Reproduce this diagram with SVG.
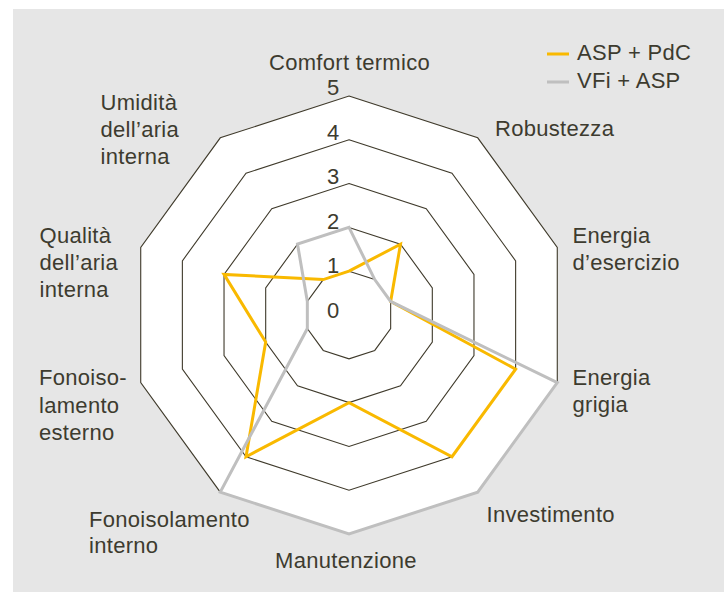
<svg xmlns="http://www.w3.org/2000/svg" width="724" height="592" viewBox="0 0 724 592">
  <style>
    .bg { fill: #e6e6e6; }
    .ring { fill: none; stroke: #3f3a2b; stroke-width: 1.1; stroke-linejoin: miter; }
    .outer { fill: #ffffff; stroke: #3f3a2b; stroke-width: 1.1; }
    .s-orange { fill: none; stroke: #f9b900; stroke-width: 3; stroke-linejoin: miter; }
    .s-gray { fill: none; stroke: #bfbfbf; stroke-width: 3; stroke-linejoin: miter; }
    text { font-family: "Liberation Sans", Arial, sans-serif; font-size: 22px; letter-spacing: 0.3px; fill: #3d3b2f; }
    .num { text-anchor: middle; letter-spacing: 0; }
  </style>
  <rect class="bg" x="13" y="9" width="711" height="583"/>

  <g id="chart" transform="translate(-1 0)">
    <g id="grid">
      <polygon class="outer" points="350,96 478.72,137.83 558.28,247.33 558.28,382.67 478.72,492.17 350,534 221.28,492.17 141.72,382.67 141.72,247.33 221.28,137.83"/>
      <polygon class="ring" points="350,139.8 452.98,173.26 516.63,260.86 516.63,369.14 452.98,456.74 350,490.2 247.02,456.74 183.37,369.14 183.37,260.86 247.02,173.26"/>
      <polygon class="ring" points="350,183.6 427.23,208.7 474.97,274.4 474.97,355.6 427.23,421.3 350,446.4 272.77,421.3 225.03,355.6 225.03,274.4 272.77,208.7"/>
      <polygon class="ring" points="350,227.4 401.49,244.13 433.31,287.93 433.31,342.07 401.49,385.87 350,402.6 298.51,385.87 266.69,342.07 266.69,287.93 298.51,244.13"/>
      <polygon class="ring" points="350,271.2 375.74,279.57 391.66,301.46 391.66,328.54 375.74,350.43 350,358.8 324.26,350.43 308.34,328.54 308.34,301.46 324.26,279.57"/>
    </g>
    <g id="scale">
      <text class="num" x="334" y="318">0</text>
      <text class="num" x="334" y="273.4">1</text>
      <text class="num" x="334" y="228.8">2</text>
      <text class="num" x="334" y="184.2">3</text>
      <text class="num" x="334" y="139.6">4</text>
      <text class="num" x="334" y="95">5</text>
    </g>
    <g id="connectors">
      <polygon id="series-asp-pdc" class="s-orange" points="350,271.2 401.49,244.13 391.66,301.46 516.63,369.14 452.98,456.74 350,402.6 247.02,456.74 266.69,342.07 225.03,274.4 324.26,279.57"/>
      <polygon id="series-vfi-asp" class="s-gray" points="350,227.4 375.74,279.57 391.66,301.46 558.28,382.67 478.72,492.17 350,534 221.28,492.17 308.34,328.54 308.34,301.46 298.51,244.13"/>
    </g>
  </g>

  <g id="axis-labels">
    <g id="label-comfort"><text x="349.5" y="69.5" text-anchor="middle">Comfort termico</text></g>
    <g id="label-robustezza"><text x="495" y="135.5">Robustezza</text></g>
    <g id="label-energia-esercizio"><text x="572.5" y="243">Energia</text><text x="572.5" y="270">d’esercizio</text></g>
    <g id="label-energia-grigia"><text x="572.5" y="385">Energia</text><text x="572.5" y="411.5">grigia</text></g>
    <g id="label-investimento"><text x="486.5" y="521.5">Investimento</text></g>
    <g id="label-manutenzione"><text x="275" y="568">Manutenzione</text></g>
    <g id="label-fono-interno"><text x="89" y="526.5">Fonoisolamento</text><text x="89" y="553">interno</text></g>
    <g id="label-fono-esterno"><text x="39" y="385">Fonoiso-</text><text x="39" y="412.5">lamento</text><text x="39" y="440">esterno</text></g>
    <g id="label-qualita"><text x="39.5" y="243">Qualità</text><text x="39.5" y="270">dell’aria</text><text x="39.5" y="297">interna</text></g>
    <g id="label-umidita"><text x="100.5" y="110">Umidità</text><text x="100.5" y="137">dell’aria</text><text x="100.5" y="163.5">interna</text></g>
  </g>

  <g id="legend">
    <g id="legend-asp-pdc">
      <line x1="547" y1="54" x2="569" y2="54" stroke="#f9b900" stroke-width="3"/>
      <text x="577" y="59.5">ASP + PdC</text>
    </g>
    <g id="legend-vfi-asp">
      <line x1="547" y1="82" x2="569" y2="82" stroke="#bfbfbf" stroke-width="3"/>
      <text x="577" y="88">VFi + ASP</text>
    </g>
  </g>
</svg>
